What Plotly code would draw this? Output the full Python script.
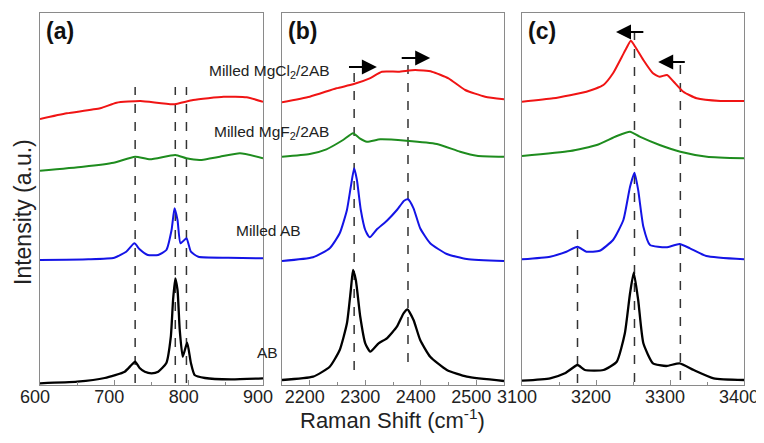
import plotly.graph_objects as go

# ---------------- data (intensity in a.u., stacked offsets) ----------------
# Panel (a): 600-900 cm-1
a_ab_x = [600, 650, 687, 714, 723, 728, 734, 741, 750, 759, 770, 776, 779, 782, 785, 788, 792, 798, 803, 808, 822, 857, 900]
a_ab_y = [1.7, 3.3, 7, 13.3, 20, 23.3, 17, 13.3, 11.7, 13.3, 22, 48.3, 85, 106.7, 95, 55, 28.3, 42.3, 22, 10, 7, 5.7, 6.7]
a_mab_x = [600, 665, 700, 716, 727, 734, 745, 759, 770, 777, 781, 785, 789, 797, 803, 813, 853, 900]
a_mab_y = [125, 125.7, 127.3, 133.3, 141.7, 135.7, 130, 130, 135, 155, 176.7, 165, 141.7, 146.7, 133.3, 128.3, 127.3, 126.7]
a_mgf_x = [600, 658, 699, 728, 748, 782, 797, 815, 842, 869, 900]
a_mgf_y = [214.3, 218.3, 222.3, 228.3, 225.7, 230, 226.7, 225, 228.3, 231.7, 226.7]
a_mgcl_x = [600, 636, 681, 703, 735, 779, 806, 847, 878, 900]
a_mgcl_y = [266, 271.7, 276.7, 282.3, 284, 280.7, 285, 288.3, 287.7, 283.3]

# Panel (b): 2150-2550 cm-1
b_ab_x = [2150, 2206, 2236, 2254, 2267, 2274, 2278, 2283, 2291, 2300, 2309, 2324, 2339, 2357, 2369, 2376, 2387, 2399, 2417, 2447, 2483, 2550]
b_ab_y = [5, 8.3, 18.3, 35, 61.7, 95, 115, 105, 68.3, 41.7, 33.3, 41.7, 46.7, 58.3, 71.7, 75.7, 65, 45, 28.3, 15, 8.3, 4]
b_mab_x = [2150, 2206, 2236, 2254, 2267, 2274, 2280, 2285, 2292, 2300, 2308, 2321, 2339, 2357, 2370, 2377, 2387, 2399, 2417, 2447, 2483, 2550]
b_mab_y = [124, 127.7, 136.7, 151.7, 175, 198.3, 216.7, 205, 175, 155, 147.7, 155.7, 164.3, 175, 184.3, 185.7, 176.7, 156.7, 141.7, 131, 126, 124]
b_mgf_x = [2150, 2200, 2230, 2260, 2278, 2290, 2303, 2327, 2374, 2429, 2471, 2501, 2550]
b_mgf_y = [228.3, 231, 235.7, 245, 251.7, 246.7, 243.3, 245.7, 244.3, 241, 233.3, 229.3, 228.3]
b_mgcl_x = [2150, 2200, 2248, 2278, 2308, 2330, 2360, 2390, 2420, 2450, 2480, 2516, 2550]
b_mgcl_y = [282.7, 288.3, 296.7, 300.7, 306.7, 313.3, 313.3, 315, 313.3, 306.7, 295, 288.3, 285.7]

# Panel (c): 3100-3400 cm-1
c_ab_x = [3100, 3138, 3158, 3175, 3185, 3210, 3228, 3239, 3246, 3251, 3257, 3264, 3277, 3295, 3313, 3332, 3359, 3400]
c_ab_y = [4.3, 6.7, 11.7, 20, 15, 15, 23.3, 51.7, 91.7, 112.3, 85, 41.7, 21.7, 19, 21.7, 15, 6.7, 5]
c_mab_x = [3100, 3138, 3160, 3175, 3187, 3205, 3223, 3237, 3246, 3252, 3257, 3264, 3273, 3295, 3313, 3327, 3349, 3400]
c_mab_y = [125.7, 128.3, 133.3, 138.3, 133.3, 134.3, 145, 165, 198.3, 212.3, 195, 158.3, 140, 137.7, 141, 136.7, 129, 125.7]
c_mgf_x = [3100, 3165, 3201, 3228, 3246, 3259, 3286, 3314, 3350, 3400]
c_mgf_y = [229, 234, 240, 249, 253.3, 248.3, 240, 233.3, 228.3, 226.7]
c_mgcl_x = [3100, 3142, 3187, 3210, 3223, 3235, 3241, 3247, 3253, 3264, 3277, 3286, 3296, 3305, 3318, 3336, 3368, 3400]
c_mgcl_y = [283.3, 286.7, 293.3, 300, 311.7, 328.3, 336.7, 344.3, 338.3, 325, 311.7, 308.3, 310, 303.3, 293.3, 286.7, 284, 284]

# dashed reference lines: positions, top and bottom intensity
a_lines_x = [728, 782, 797]
a_lines_top = [298, 298, 298]
a_lines_bot = [2, 2, 2]
b_lines_x = [2280, 2377]
b_lines_top = [318, 327]
b_lines_bot = [15, 23]
c_lines_x = [3175, 3252, 3314]
c_lines_top = [160, 353, 322]
c_lines_bot = [2, 3, 5]

# shift arrows (tail of the T-bar, arrow tip, level)
b_arrow_tail = [2268, 2363]
b_arrow_tip = [2321, 2417]
b_arrow_y = [318, 327]
c_arrow_tail = [3266, 3322]
c_arrow_tip = [3227, 3284]
c_arrow_y = [353, 323]

x_ranges = [[600, 900], [2150, 2550], [3100, 3400]]
x_ticks = [[600, 700, 800, 900], [2200, 2300, 2400, 2500], [3100, 3200, 3300, 3400]]
panel_labels = ["(a)", "(b)", "(c)"]
series_names = ["AB", "Milled AB", "Milled MgF<sub>2</sub>/2AB", "Milled MgCl<sub>2</sub>/2AB"]
colors = ["#000000", "#1414e6", "#1e8c1e", "#f01414"]

panels = [
    [(a_ab_x, a_ab_y), (a_mab_x, a_mab_y), (a_mgf_x, a_mgf_y), (a_mgcl_x, a_mgcl_y)],
    [(b_ab_x, b_ab_y), (b_mab_x, b_mab_y), (b_mgf_x, b_mgf_y), (b_mgcl_x, b_mgcl_y)],
    [(c_ab_x, c_ab_y), (c_mab_x, c_mab_y), (c_mgf_x, c_mgf_y), (c_mgcl_x, c_mgcl_y)],
]
lines = [(a_lines_x, a_lines_top, a_lines_bot), (b_lines_x, b_lines_top, b_lines_bot), (c_lines_x, c_lines_top, c_lines_bot)]
arrows = [None, (b_arrow_tail, b_arrow_tip, b_arrow_y), (c_arrow_tail, c_arrow_tip, c_arrow_y)]

# ---------------- layout geometry ----------------
# the page body has the browser's default 8px margin, so the figure is drawn 8px in;
# the page is kept within the window so nothing overflows
PAGE = 8
W, H = 764 - PAGE, 443 - 2 * PAGE
# plot frame in window pixels: left 40, right 744, top 13, bottom 385
ml, mr, mt = 40 - PAGE, 764 - 744, 13 - PAGE
mb = (H + PAGE) - 385
pw = W - ml - mr
ph = H - mt - mb
domains = [[0, 223 / pw], [242 / pw, 464 / pw], [482 / pw, 1.0]]
axis_col = "#8a8a8a"
FONT = "Liberation Sans, Arial, sans-serif"


def px_x(px):  # window pixel -> paper fraction
    return (px - PAGE - ml) / pw


def px_y(py):
    return (H - mb - (py - PAGE)) / ph


# series label placement (right edge / vertical centre, window pixels)
label_right_px = [280, 303, 331, 332]
label_mid_py = [352, 231, 132, 72]

fig = go.Figure()
for p in range(3):
    xa = "x" if p == 0 else f"x{p+1}"
    ya = "y" if p == 0 else f"y{p+1}"
    for lx, lt, lb in zip(*lines[p]):
        fig.add_trace(go.Scatter(x=[lx, lx], y=[lb, lt], mode="lines", xaxis=xa, yaxis=ya,
                                 line=dict(color="#333333", width=1.5, dash="dash"),
                                 showlegend=False, hoverinfo="skip"))
    for s, (sx, sy) in enumerate(panels[p]):
        fig.add_trace(go.Scatter(x=sx, y=sy, mode="lines", xaxis=xa, yaxis=ya,
                                 line=dict(color=colors[s], width=2.3 if s == 0 else 2,
                                           shape="spline", smoothing=0.5),
                                 name=series_names[s], showlegend=False))
    if arrows[p] is not None:
        for t, tip, yv in zip(*arrows[p]):
            fig.add_annotation(x=tip, y=yv, ax=t, ay=yv, xref=xa, yref=ya, axref=xa, ayref=ya,
                               text="", showarrow=True, arrowhead=2, arrowsize=1.5, arrowwidth=2,
                               arrowcolor="#000000")
    xkey = "xaxis" if p == 0 else f"xaxis{p+1}"
    ykey = "yaxis" if p == 0 else f"yaxis{p+1}"
    fig.layout[xkey] = dict(domain=domains[p], range=x_ranges[p], anchor=ya,
                            tickvals=x_ticks[p],
                            ticks="inside", ticklen=5, tickcolor=axis_col,
                            minor=dict(ticks="inside", ticklen=3, dtick=50, tickcolor=axis_col),
                            showline=True, mirror=True, linecolor=axis_col, linewidth=1,
                            showgrid=False, zeroline=False,
                            ticklabelstandoff=-5, ticklabelshift=-5,
                            ticklabeloverflow="allow",
                            tickfont=dict(size=18, color="#222222", family=FONT))
    fig.layout[ykey] = dict(domain=[0, 1], range=[0, 372], anchor=xa, showticklabels=False,
                            ticks="", showline=True, mirror=True, linecolor=axis_col, linewidth=1,
                            showgrid=False, zeroline=False)
    fig.add_annotation(text=f"<b>{panel_labels[p]}</b>", xref=f"{xa} domain", yref="paper",
                       x=0.02, y=px_y(31), xanchor="left", yanchor="middle",
                       showarrow=False, font=dict(size=23, color="#111111", family=FONT))

for name, rx, my in zip(series_names, label_right_px, label_mid_py):
    fig.add_annotation(text=name, x=px_x(rx), y=px_y(my), xref="paper", yref="paper",
                       xanchor="right", yanchor="middle",
                       showarrow=False, font=dict(size=15.5, color="#222222", family=FONT))

fig.add_annotation(text="Raman Shift (cm<sup>-1</sup>)", xref="paper", yref="paper",
                   x=px_x(392), y=px_y(H + PAGE), xanchor="center", yanchor="bottom",
                   showarrow=False, font=dict(size=22, color="#222222", family=FONT))
fig.add_annotation(text="Intensity (a.u.)", xref="paper", yref="paper", textangle=-90,
                   x=px_x(23), y=px_y(212), xanchor="center", yanchor="middle",
                   showarrow=False, font=dict(size=23, color="#222222", family=FONT))

fig.update_layout(width=W, height=H, margin=dict(l=ml, r=mr, t=mt, b=mb),
                  plot_bgcolor="white", paper_bgcolor="white", showlegend=False)
fig.write_html("out.html")
